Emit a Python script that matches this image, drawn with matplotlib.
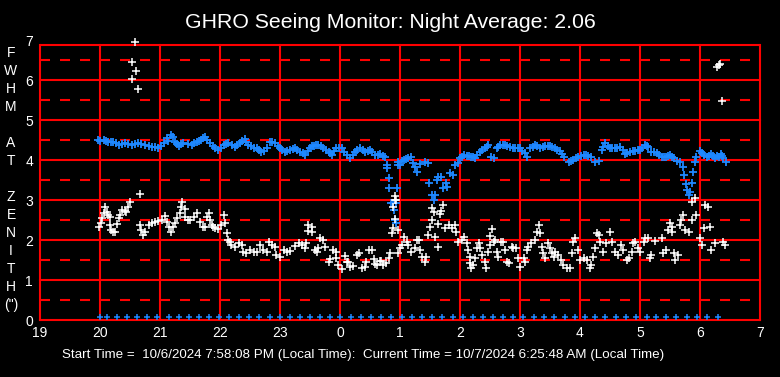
import matplotlib.pyplot as plt
import numpy as np

plt.rcParams['font.family'] = ['Liberation Sans', 'DejaVu Sans']
plt.rcParams['lines.scale_dashes'] = False

# axis labels
hour_ticks = list(range(19, 32))
hour_labels = ['19', '20', '21', '22', '23', '0', '1', '2', '3', '4', '5', '6', '7']
fwhm_ticks = [0, 1, 2, 3, 4, 5, 6, 7]
side_chars = ['F', 'W', 'H', 'M', '', 'A', 'T', '', 'Z', 'E', 'N', 'I', 'T', 'H', '(")']

title = 'GHRO Seeing Monitor: Night Average: 2.06'
footer = 'Start Time =  10/6/2024 7:58:08 PM (Local Time):  Current Time = 10/7/2024 6:25:48 AM (Local Time)'

# blue series (time in hours after midnight of start day, FWHM)
blue_t = [19.97, 20.06, 20.14, 20.22, 20.31, 20.42, 20.53, 20.64, 20.75, 20.86,
          20.97, 21.06, 21.11, 21.18, 21.25, 21.31, 21.39, 21.53, 21.61, 21.69,
          21.75, 21.83, 21.92, 21.97, 22.06, 22.14, 22.25, 22.33, 22.41, 22.47,
          22.56, 22.61, 22.69, 22.78, 22.83, 22.92,
          23.00, 23.08, 23.17, 23.25, 23.33, 23.42, 23.50, 23.56, 23.64, 23.72,
          23.81, 23.87, 23.94, 24.03, 24.11, 24.17, 24.25, 24.33, 24.42, 24.50,
          24.58, 24.67, 24.75, 24.78, 24.79, 24.81, 24.82, 24.85, 24.88, 24.90,
          24.92, 24.93, 24.94, 24.95, 24.96, 24.97, 25.00, 25.06, 25.14, 25.18,
          25.22, 25.28, 25.33, 25.42, 25.46, 25.48, 25.53, 25.56, 25.58, 25.61,
          25.64, 25.69, 25.72, 25.76, 25.79, 25.83, 25.89, 25.92,
          25.97, 26.00, 26.06, 26.11, 26.19, 26.25, 26.33, 26.42, 26.47, 26.52,
          26.56, 26.61, 26.67, 26.75, 26.83, 26.92, 27.00, 27.08, 27.11, 27.17,
          27.25, 27.33, 27.42, 27.50, 27.58, 27.67, 27.74, 27.81, 27.89, 27.97,
          28.06, 28.14, 28.19, 28.25, 28.31, 28.36, 28.42, 28.50, 28.58, 28.67,
          28.75, 28.83, 28.92, 29.00, 29.08, 29.14, 29.19, 29.28, 29.36, 29.44,
          29.50, 29.56, 29.61, 29.67, 29.71, 29.74, 29.76, 29.79, 29.82, 29.83,
          29.86, 29.89, 29.92, 29.94, 30.00, 30.06, 30.11, 30.19, 30.25, 30.31,
          30.35, 30.39, 30.43,
          # in-between readings
          20.00, 20.10, 20.18, 20.27, 20.36, 20.47, 20.58, 20.69, 20.81, 20.92,
          21.02, 21.14, 21.22, 21.28, 21.35, 21.46, 21.57, 21.65, 21.72, 21.79,
          21.88, 22.01, 22.10, 22.20, 22.29, 22.37, 22.44, 22.52, 22.65, 22.74,
          22.87, 22.96, 23.04, 23.12, 23.21, 23.29, 23.38, 23.46, 23.53, 23.60,
          23.68, 23.77, 23.84, 23.90, 23.99, 24.07, 24.21, 24.29, 24.38, 24.46,
          24.54, 24.63, 24.71, 25.03, 25.10, 25.25, 26.03, 26.15, 26.22, 26.29,
          26.37, 26.45, 26.64, 26.71, 26.79, 26.88, 26.96, 27.04, 27.21, 27.29,
          27.38, 27.46, 27.54, 27.62, 27.70, 27.85, 27.93, 28.01, 28.10, 28.39,
          28.46, 28.54, 28.62, 28.71, 28.79, 28.88, 28.96, 29.04, 29.11, 29.24,
          29.32, 29.40, 29.47, 29.53, 30.03, 30.15, 30.22, 30.28, 30.37]
blue_y = [4.50, 4.50, 4.46, 4.46, 4.38, 4.42, 4.38, 4.42, 4.38, 4.33,
          4.31, 4.42, 4.54, 4.63, 4.46, 4.36, 4.42, 4.38, 4.46, 4.50,
          4.58, 4.42, 4.29, 4.25, 4.38, 4.42, 4.33, 4.42, 4.53, 4.38,
          4.31, 4.29, 4.19, 4.29, 4.46, 4.42,
          4.29, 4.21, 4.25, 4.31, 4.21, 4.13, 4.31, 4.36, 4.38, 4.31,
          4.21, 4.13, 4.31, 4.29, 4.13, 4.04, 4.21, 4.29, 4.21, 4.25,
          4.13, 4.14, 4.08, 3.88, 3.79, 3.54, 3.29, 2.92, 2.92, 2.75,
          2.50, 2.42, 2.92, 3.29, 3.88, 3.96, 3.88, 4.00, 4.04, 4.08,
          3.92, 3.71, 3.90, 3.96, 3.92, 3.42, 3.13, 3.00, 3.13, 3.50,
          3.58, 3.58, 3.29, 3.42, 3.33, 3.67, 3.63, 3.88,
          3.92, 4.04, 4.13, 4.11, 4.08, 4.06, 4.21, 4.29, 4.38, 4.08,
          4.06, 4.29, 4.38, 4.38, 4.33, 4.29, 4.29, 4.17, 4.08, 4.29,
          4.38, 4.31, 4.36, 4.36, 4.29, 4.23, 4.08, 3.94, 4.00, 4.08,
          4.13, 4.11, 4.08, 3.94, 3.98, 4.25, 4.42, 4.31, 4.29, 4.33,
          4.14, 4.21, 4.23, 4.25, 4.38, 4.33, 4.21, 4.17, 4.08, 4.08,
          4.13, 4.04, 3.98, 3.96, 3.83, 3.63, 3.39, 3.25, 3.13, 3.21,
          3.42, 3.71, 3.94, 4.08, 4.23, 4.13, 4.08, 4.14, 4.06, 4.08,
          4.14, 4.04, 3.96,
          4.48, 4.47, 4.44, 4.43, 4.40, 4.40, 4.41, 4.40, 4.36, 4.32,
          4.36, 4.48, 4.57, 4.40, 4.39, 4.40, 4.42, 4.48, 4.55, 4.50,
          4.36, 4.31, 4.40, 4.37, 4.37, 4.47, 4.45, 4.35, 4.24, 4.23,
          4.45, 4.36, 4.25, 4.23, 4.28, 4.26, 4.17, 4.22, 4.34, 4.37,
          4.35, 4.26, 4.17, 4.22, 4.30, 4.21, 4.12, 4.25, 4.25, 4.23,
          4.19, 4.13, 4.11, 3.98, 4.02, 3.82, 4.08, 4.10, 4.07, 4.12,
          4.25, 4.33, 4.33, 4.38, 4.36, 4.31, 4.29, 4.23, 4.33, 4.34,
          4.33, 4.36, 4.33, 4.26, 4.16, 3.97, 4.04, 4.10, 4.12, 4.33,
          4.36, 4.30, 4.31, 4.24, 4.17, 4.23, 4.24, 4.31, 4.36, 4.19,
          4.12, 4.08, 4.10, 4.08, 4.17, 4.10, 4.11, 4.10, 4.11]

# white series
white_t = [19.98, 20.02, 20.03, 20.06, 20.08, 20.11, 20.14, 20.17, 20.17, 20.19,
           20.22, 20.25, 20.28, 20.31, 20.33, 20.36, 20.42, 20.44, 20.47, 20.50,
           20.66, 20.67, 20.69, 20.72, 20.75, 20.81, 20.86, 20.92, 20.97, 21.03,
           21.08, 21.11, 21.15, 21.18, 21.22, 21.25, 21.29, 21.33, 21.35, 21.37,
           21.41, 21.42, 21.46, 21.50, 21.56, 21.61, 21.67, 21.71, 21.75, 21.78,
           21.81, 21.83, 21.86, 21.89, 21.92, 21.97, 22.02, 22.06, 22.08, 22.11,
           22.14, 22.17, 22.19, 22.25, 22.31, 22.36, 22.39, 22.44, 22.50, 22.56,
           22.61, 22.67, 22.72, 22.78, 22.81, 22.86, 22.92,
           22.94, 23.00, 23.06, 23.11, 23.17, 23.25, 23.31, 23.36, 23.42, 23.44,
           23.47, 23.53, 23.47, 23.54, 23.58, 23.61, 23.64, 23.67, 23.72, 23.75,
           23.81, 23.83, 23.89, 23.93, 23.94, 23.97, 24.03, 24.08, 24.11, 24.14,
           24.17, 24.22, 24.28, 24.31, 24.36, 24.41, 24.44, 24.48, 24.53, 24.56,
           24.58, 24.61, 24.67, 24.69, 24.72, 24.76, 24.81, 24.83, 24.86, 24.89,
           24.91, 24.89, 24.92, 24.91, 24.94, 24.96, 24.97, 25.00, 25.03, 25.07,
           25.11, 25.14, 25.19, 25.25, 25.28, 25.31, 25.33, 25.36, 25.42, 25.44,
           25.47, 25.50, 25.53, 25.53, 25.56, 25.67, 25.68, 25.72, 25.64, 25.58,
           25.64, 25.75, 25.81, 25.86, 25.92,
           25.94, 25.97, 26.03, 26.07, 26.11, 26.14, 26.17, 26.17, 26.19, 26.22,
           26.25, 26.28, 26.31, 26.33, 26.36, 26.42, 26.44, 26.47, 26.50, 26.50,
           26.53, 26.56, 26.58, 26.61, 26.64, 26.69, 26.72, 26.75, 26.78, 26.81,
           26.86, 26.89, 26.94, 26.97, 27.00, 27.06, 27.08, 27.11, 27.14, 27.19,
           27.25, 27.28, 27.31, 27.33, 27.36, 27.39, 27.42, 27.47, 27.50, 27.53,
           27.56, 27.58, 27.64, 27.69, 27.72, 27.78, 27.83, 27.86, 27.89, 27.92,
           27.96, 28.00, 28.06, 28.11, 28.17, 28.19, 28.22, 28.25, 28.28, 28.31,
           28.33, 28.39, 28.44, 28.50, 28.53, 28.58, 28.64, 28.69, 28.72, 28.78,
           28.81, 28.86, 28.89,
           28.92, 28.97, 29.00, 29.06, 29.08, 29.14, 29.17, 29.19, 29.25, 29.36,
           29.39, 29.44, 29.50, 29.53, 29.47, 29.54, 29.56, 29.58, 29.64, 29.67,
           29.69, 29.72, 29.75, 29.81, 29.86, 29.86, 29.92, 29.94, 30.00, 30.03,
           30.06, 30.08, 30.14, 30.17, 30.19, 30.25, 30.39, 30.42,
           20.54, 20.58, 20.53, 20.60, 20.64, 30.28, 30.31, 30.33, 30.36]
white_y = [2.33, 2.42, 2.56, 2.67, 2.83, 2.71, 2.63, 2.58, 2.38, 2.25,
           2.19, 2.21, 2.39, 2.54, 2.63, 2.75, 2.73, 2.71, 2.83, 2.94,
           3.14, 2.38, 2.25, 2.13, 2.21, 2.38, 2.42, 2.46, 2.48, 2.50,
           2.61, 2.46, 2.33, 2.21, 2.33, 2.42, 2.54, 2.67, 2.83, 2.94,
           2.78, 2.58, 2.50, 2.50, 2.58, 2.67, 2.46, 2.33, 2.33, 2.58,
           2.67, 2.50, 2.38, 2.33, 2.29, 2.28, 2.38, 2.63, 2.42, 2.17,
           2.00, 1.96, 1.88, 1.83, 1.92, 1.88, 1.71, 1.67, 1.75, 1.71,
           1.71, 1.88, 1.75, 1.71, 1.96, 1.88, 1.83,
           1.63, 1.58, 1.75, 1.71, 1.73, 1.86, 1.92, 1.88, 1.79, 1.92,
           2.38, 2.33, 2.23, 2.19, 1.75, 1.71, 1.81, 2.06, 2.00, 1.83,
           1.46, 1.53, 1.75, 1.71, 1.54, 1.38, 1.28, 1.61, 1.44, 1.46,
           1.33, 1.36, 1.63, 1.67, 1.29, 1.33, 1.44, 1.75, 1.75, 1.53,
           1.39, 1.38, 1.48, 1.48, 1.38, 1.42, 1.54, 1.67, 2.17, 2.29,
           2.53, 2.83, 3.00, 3.11, 3.00, 2.25, 1.67, 1.79, 1.88, 2.08,
           1.96, 1.88, 1.71, 1.79, 2.00, 2.00, 1.75, 1.58, 1.44, 1.58,
           2.13, 2.33, 2.50, 2.81, 2.69, 2.64, 2.73, 2.88, 2.39, 2.08,
           1.83, 2.29, 2.38, 2.29, 2.38,
           2.21, 1.96, 2.00, 2.08, 1.92, 1.75, 1.58, 1.42, 1.29, 1.38,
           1.54, 1.79, 1.92, 1.79, 1.63, 1.46, 1.29, 1.71, 1.88, 2.11,
           2.28, 1.96, 2.00, 1.71, 1.58, 1.96, 1.96, 1.75, 1.46, 1.42,
           1.83, 1.79, 1.79, 1.54, 1.33, 1.54, 1.46, 1.75, 1.83, 1.92,
           2.00, 2.21, 2.38, 2.17, 1.83, 1.67, 1.54, 1.92, 1.79, 1.67,
           1.58, 1.71, 1.63, 1.50, 1.38, 1.29, 1.29, 1.67, 1.96, 2.04,
           1.75, 1.50, 1.54, 1.50, 1.29, 1.38, 1.58, 1.79, 2.17, 2.13,
           1.96, 1.71, 1.92, 2.19, 1.96, 1.71, 1.63, 1.88, 1.75, 1.50,
           1.54, 1.71, 1.92,
           1.96, 1.79, 1.71, 1.96, 2.06, 2.04, 1.54, 1.63, 1.98, 2.04,
           1.67, 1.75, 2.42, 2.33, 2.25, 2.19, 1.67, 1.50, 1.63, 2.38,
           2.50, 2.63, 2.25, 2.21, 2.50, 2.96, 3.06, 2.63, 2.04, 1.88,
           2.29, 2.88, 2.83, 2.33, 1.75, 1.92, 1.96, 1.88,
           6.44, 6.94, 6.02, 6.22, 5.77, 6.33, 6.38, 6.40, 5.48]

# status markers along the bottom (minutes after 19:00)
status_min = [60, 66.7, 77.3, 87.3, 97.3, 107.3, 117.3, 128.7, 138.7, 148.7,
              158.7, 168.7, 178.7, 188.7, 198.7, 208.7, 219.3, 230, 240, 250,
              260, 270, 280, 290, 300, 310.7, 320.7, 330.7, 340.7, 350.7,
              361.7, 371.7, 381.7, 391.7, 401.7, 412.7, 422.7, 432.7, 442.7, 452.7,
              462.7, 473.3, 483.3, 494, 504, 514, 525, 535, 545, 555,
              565, 575.7, 586, 596, 606.7, 616, 626, 636, 646.7, 656.7,
              667.3, 677.7]
status_y = [0.07] * len(status_min)

W, H = 780, 377
fig = plt.figure(figsize=(W / 100, H / 100), dpi=100, facecolor='black')
ax = fig.add_axes([40 / W, 57 / H, 720 / W, 280 / H])
ax.set_facecolor('black')
ax.set_xlim(19, 31)
ax.set_ylim(0, 7)
top = 6.875

red = '#ff0000'
for h in hour_ticks:
    ax.axvline(h, ymax=top / 7, color=red, lw=1.5, clip_on=False, zorder=1)
for v in range(0, 7):
    ax.axhline(v, color=red, lw=1.5, clip_on=False, zorder=1)
ax.axhline(top, color=red, lw=1.5, zorder=1)
for v in np.arange(0.5, 7, 1.0):
    ax.axhline(v, color=red, lw=1.5, dashes=(7.2, 7.2), zorder=1)

for s in ax.spines.values():
    s.set_visible(False)

blue = '#1e88ff'
ax.plot(np.array(status_min) / 60 + 19, status_y, '+', color=blue,
        ms=5, mew=1.1, zorder=3)
ax.plot(blue_t, blue_y, '+', color=blue, ms=6, mew=1.3, zorder=3)
ax.plot(white_t, white_y, '+', color='white', ms=5.5, mew=1.1, zorder=4,
        clip_on=False)

ax.set_xticks(hour_ticks, hour_labels)
ax.set_yticks(fwhm_ticks)
ax.tick_params(axis='both', length=0, colors='white', labelsize=10)
ax.tick_params(axis='x', pad=4)
ax.tick_params(axis='y', pad=5)

fig.text(390 / W, 1 - 22 / H, title, ha='center', va='center',
         fontsize=15.3, color='white')
fig.text(62 / W, 1 - 355 / H, footer, ha='left', va='center',
         fontsize=9.6, color='white')
for i, ch in enumerate(side_chars):
    fig.text(11 / W, 1 - (52.7 + 18 * i) / H, ch, ha='center', va='center',
             fontsize=10, color='white')

fig.savefig('out.png', dpi=100, facecolor='black')
